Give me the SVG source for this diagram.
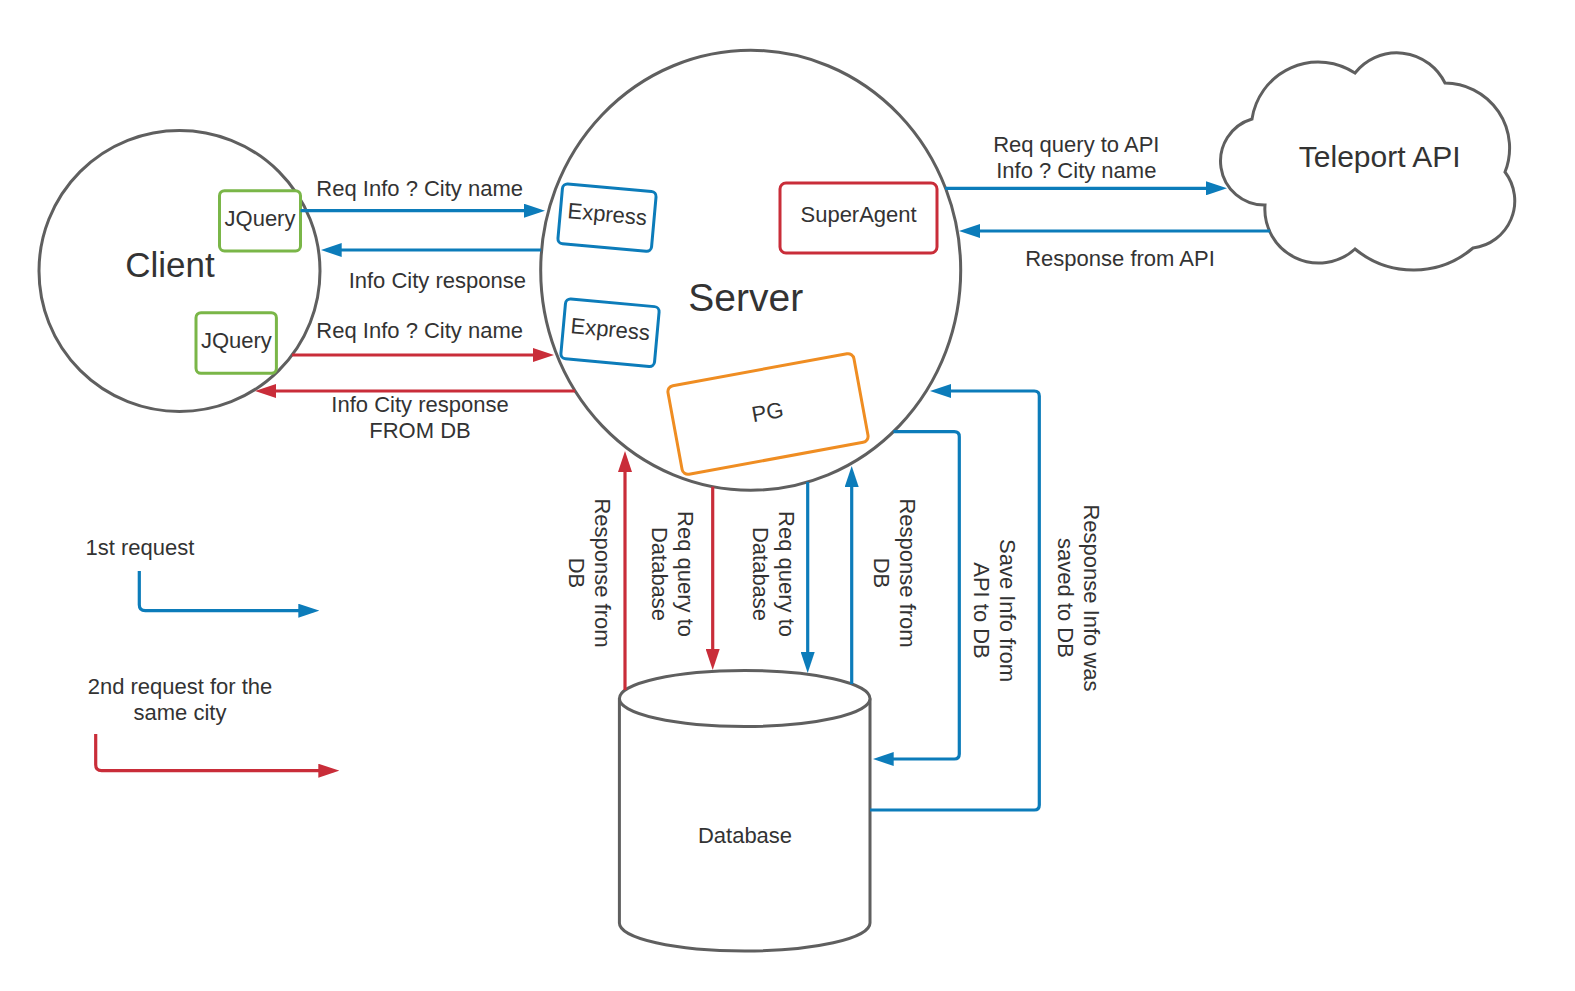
<svg xmlns="http://www.w3.org/2000/svg" width="1575" height="991" viewBox="0 0 1575 991">
<style>
text{font-family:"Liberation Sans",Arial,sans-serif;fill:#333333;font-size:22px;text-anchor:middle}
.shape{fill:#ffffff;stroke:#5f5f5f;stroke-width:3}
.blue{fill:none;stroke:#0c7cba;stroke-width:3.2}
.red{fill:none;stroke:#c92d39;stroke-width:3.2}
.cb{stroke:#0c7cba}
.cr{stroke:#c92d39}
.box{fill:#ffffff;stroke-width:3}
.bl{marker-end:url(#mb)}
.rd{marker-end:url(#mr)}
</style>
<defs>
<marker id="mb" viewBox="0 0 21 14" refX="15" refY="7" markerWidth="21" markerHeight="14" markerUnits="userSpaceOnUse" orient="auto"><path d="M0 0L21 7L0 14z" fill="#0c7cba"/></marker>
<marker id="mr" viewBox="0 0 21 14" refX="15" refY="7" markerWidth="21" markerHeight="14" markerUnits="userSpaceOnUse" orient="auto"><path d="M0 0L21 7L0 14z" fill="#c92d39"/></marker>
</defs>
<rect width="1575" height="991" fill="#ffffff"/>

<g id="client">
<circle class="shape" cx="179.5" cy="271" r="140.5"/>
<text x="170" y="277" style="font-size:35px">Client</text>
</g>
<g id="jquery1">
<rect class="box" x="219.5" y="190.7" width="81" height="60.3" rx="5" stroke="#7ab648"/>
<text x="260" y="226">JQuery</text>
</g>
<g id="jquery2">
<rect class="box" x="196" y="312.7" width="80.4" height="60.6" rx="5" stroke="#7ab648"/>
<text x="236.4" y="348">JQuery</text>
</g>

<g id="server">
<ellipse class="shape" cx="750.7" cy="270.3" rx="210" ry="220"/>
<text x="745.8" y="310.5" style="font-size:39px">Server</text>
</g>
<g id="express1" transform="translate(607 217.6) rotate(5.1)">
<rect class="box cb" x="-47" y="-30" width="94" height="60" rx="5"/>
<text x="0" y="4">Express</text>
</g>
<g id="express2" transform="translate(610 332.7) rotate(5.2)">
<rect class="box cb" x="-47" y="-30" width="94" height="60" rx="5"/>
<text x="0" y="4">Express</text>
</g>
<g id="superagent">
<rect class="box cr" x="780" y="183" width="157" height="70" rx="6"/>
<text x="858.6" y="222">SuperAgent</text>
</g>
<g id="pg" transform="translate(768 414) rotate(-10.4)">
<rect class="box" x="-94.5" y="-45" width="189" height="90" rx="6" stroke="#ef8d22"/>
<text x="0" y="5.5">PG</text>
</g>

<g id="teleport">
<path class="shape" d="M1252 119 A67 67 0 0 1 1355 73 A53.5 53.5 0 0 1 1445 83 A65 65 0 0 1 1505 172 A47.5 47.5 0 0 1 1473 248 A91.7 91.7 0 0 1 1355 249 A53.9 53.9 0 0 1 1265 205 A43.9 43.9 0 0 1 1252 119 Z"/>
<text x="1379.7" y="167" style="font-size:30px">Teleport API</text>
</g>

<g id="database">
<path class="shape" d="M619.4 698.5 V923 A125.3 28 0 0 0 870 923 V698.5"/>
<ellipse class="shape" cx="744.7" cy="698.5" rx="125.3" ry="28"/>
<text x="745" y="842.7">Database</text>
</g>

<g id="connectors">
<path class="blue bl" d="M300.5 210.7 H539"/>
<path class="blue bl" d="M541 250 H326.7"/>
<path class="red rd" d="M292 355 H548"/>
<path class="red rd" d="M575 391 H261"/>
<path class="blue bl" d="M945 188.3 H1221"/>
<path class="blue bl" d="M1270 231 H965"/>
<path class="red rd" d="M625 690 V457"/>
<path class="red rd" d="M712.7 486.7 V664"/>
<path class="blue bl" d="M807.7 482 V667"/>
<path class="blue bl" d="M851.7 684 V472"/>
<path class="blue bl" d="M893.4 431.7 H954.3 Q959.3 431.7 959.3 436.7 V754 Q959.3 759 954.3 759 H878.7"/>
<path class="blue bl" d="M870 810 H1034.3 Q1039.3 810 1039.3 805 V396 Q1039.3 391 1034.3 391 H936"/>
<path class="blue bl" d="M139.3 571 V604.7 Q139.3 610.7 145.3 610.7 H313.3"/>
<path class="red rd" d="M95.7 734 V764.7 Q95.7 770.7 101.7 770.7 H333.3"/>
</g>

<g id="labels">
<text x="419.7" y="196">Req Info ? City name</text>
<text x="437.3" y="288.3">Info City response</text>
<text x="419.7" y="337.7">Req Info ? City name</text>
<text x="420" y="411.7">Info City response</text>
<text x="420" y="438.3">FROM DB</text>
<text x="1076.3" y="152.3">Req query to API</text>
<text x="1076.3" y="178.3">Info ? City name</text>
<text x="1120" y="266">Response from API</text>
<text transform="translate(590 573) rotate(90)"><tspan x="0" y="-5.3">Response from</tspan><tspan x="0" y="20.7">DB</tspan></text>
<text transform="translate(673 574) rotate(90)"><tspan x="0" y="-5.3">Req query to</tspan><tspan x="0" y="20.7">Database</tspan></text>
<text transform="translate(774 574) rotate(90)"><tspan x="0" y="-5.3">Req query to</tspan><tspan x="0" y="20.7">Database</tspan></text>
<text transform="translate(894.6 573) rotate(90)"><tspan x="0" y="-5.3">Response from</tspan><tspan x="0" y="20.7">DB</tspan></text>
<text transform="translate(994.6 610.5) rotate(90)"><tspan x="0" y="-5.3">Save Info from</tspan><tspan x="0" y="20.7">API to DB</tspan></text>
<text transform="translate(1078.8 598) rotate(90)"><tspan x="0" y="-5.3">Response Info was</tspan><tspan x="0" y="20.7">saved to DB</tspan></text>
<text x="140" y="555">1st request</text>
<text x="180" y="694">2nd request for the</text>
<text x="180" y="720">same city</text>
</g>
</svg>
